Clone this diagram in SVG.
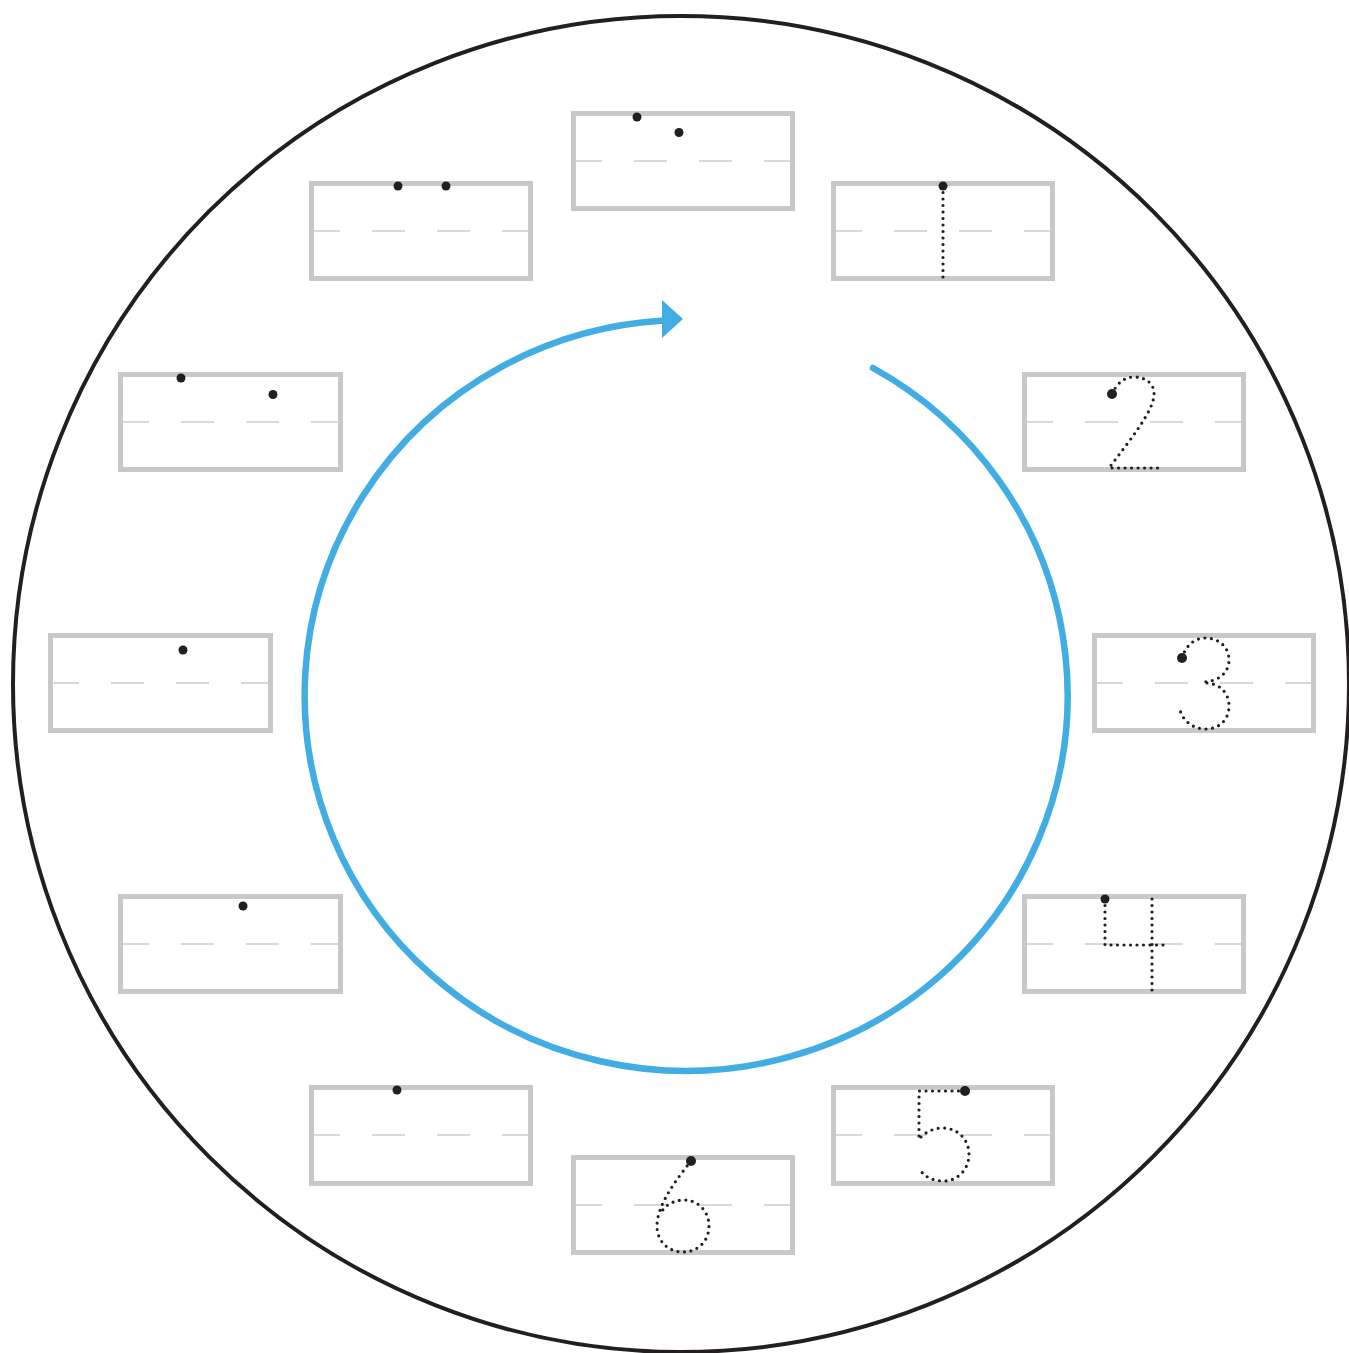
<svg xmlns="http://www.w3.org/2000/svg" width="1349" height="1353" viewBox="0 0 1349 1353">
<style>
.box{fill:none;stroke:#c8c8c8;stroke-width:5}
.mid{stroke:#cdcdcd;stroke-width:1.5;stroke-dasharray:33 32;stroke-dashoffset:4}
.dot{fill:#231f20}
.trace{fill:none;stroke:#231f20;stroke-width:3.2;stroke-linecap:round;stroke-linejoin:round;stroke-dasharray:0 6.5}
.flow{fill:none;stroke:#41ade2;stroke-width:6.5;stroke-linecap:round}
</style>
<rect width="1349" height="1353" fill="#fff"/>
<circle id="dial" cx="681" cy="684" r="668" fill="none" stroke="#231f20" stroke-width="4"/>

<g id="connectors">
<path class="flow" d="M873,368 A381.5 375.5 0 1 1 664,320.5"/>
<polygon points="662,300 683,319 662,338" fill="#41ade2"/>
</g>

<g id="box-12"><line class="mid" x1="573" y1="161" x2="793" y2="161"/><rect class="box" x="573.5" y="113.5" width="219" height="95"/><circle class="dot" cx="637" cy="117" r="4.5"/><circle class="dot" cx="679" cy="132.5" r="4.5"/></g>
<g id="box-1"><line class="mid" x1="833" y1="231" x2="1053" y2="231"/><rect class="box" x="833.5" y="183.5" width="219" height="95"/><path class="trace" d="M943,186 L943,279"/><circle class="dot" cx="943" cy="186" r="4.5"/></g>
<g id="box-2"><line class="mid" x1="1024" y1="422" x2="1244" y2="422"/><rect class="box" x="1024.5" y="374.5" width="219" height="95"/><path class="trace" d="M1112,394 C1118,381 1126,377 1134,377 C1147,377 1155,385 1154,395 C1153,412 1130,440 1109,468 L1162,468"/><circle class="dot" cx="1112" cy="394" r="5"/></g>
<g id="box-3"><line class="mid" x1="1094" y1="683" x2="1314" y2="683"/><rect class="box" x="1094.5" y="635.5" width="219" height="95"/><path class="trace" d="M1182,658 C1186,645 1195,638 1205,638 C1219,638 1229,647 1229,660 C1229,673 1218,682 1202,682 M1207,683 C1221,684 1229,694 1229,706 C1229,720 1219,729 1206,729 C1193,729 1183,721 1180,710"/><circle class="dot" cx="1182" cy="658" r="5"/></g>
<g id="box-4"><line class="mid" x1="1024" y1="944" x2="1244" y2="944"/><rect class="box" x="1024.5" y="896.5" width="219" height="95"/><path class="trace" d="M1105,899 L1105,945 L1166,945 M1152,899 L1152,991"/><circle class="dot" cx="1105" cy="899" r="4.5"/></g>
<g id="box-5"><line class="mid" x1="833" y1="1135" x2="1053" y2="1135"/><rect class="box" x="833.5" y="1087.5" width="219" height="96"/><path class="trace" d="M965,1091 L919,1091 L919,1140 M921,1137 C927,1131 935,1128 943,1128 C958,1128 969,1140 969,1154 C969,1170 957,1181 944,1181 C932,1181 923,1176 919,1168"/><circle class="dot" cx="965" cy="1091" r="5"/></g>
<g id="box-6"><line class="mid" x1="573" y1="1205" x2="793" y2="1205"/><rect class="box" x="573.5" y="1157.5" width="219" height="95"/><path class="trace" d="M691,1161 C676,1180 657,1205 657,1226 C657,1241 668,1252 683,1252 C698,1252 709,1241 709,1226 C709,1211 698,1200 684,1200 C674,1200 665,1205 661,1213"/><circle class="dot" cx="691" cy="1161" r="5"/></g>
<g id="box-7"><line class="mid" x1="311" y1="1135" x2="531" y2="1135"/><rect class="box" x="311.5" y="1087.5" width="219" height="96"/><circle class="dot" cx="397" cy="1090" r="4.5"/></g>
<g id="box-8"><line class="mid" x1="120" y1="944" x2="340" y2="944"/><rect class="box" x="120.5" y="896.5" width="220" height="95"/><circle class="dot" cx="243" cy="906" r="4.5"/></g>
<g id="box-9"><line class="mid" x1="50" y1="683" x2="270" y2="683"/><rect class="box" x="50.5" y="635.5" width="220" height="95"/><circle class="dot" cx="183" cy="650" r="4.5"/></g>
<g id="box-10"><line class="mid" x1="120" y1="422" x2="340" y2="422"/><rect class="box" x="120.5" y="374.5" width="220" height="95"/><circle class="dot" cx="181" cy="378" r="4.5"/><circle class="dot" cx="273" cy="394.5" r="4.5"/></g>
<g id="box-11"><line class="mid" x1="311" y1="231" x2="531" y2="231"/><rect class="box" x="311.5" y="183.5" width="219" height="95"/><circle class="dot" cx="398" cy="186" r="4.5"/><circle class="dot" cx="446" cy="186" r="4.5"/></g>
</svg>
